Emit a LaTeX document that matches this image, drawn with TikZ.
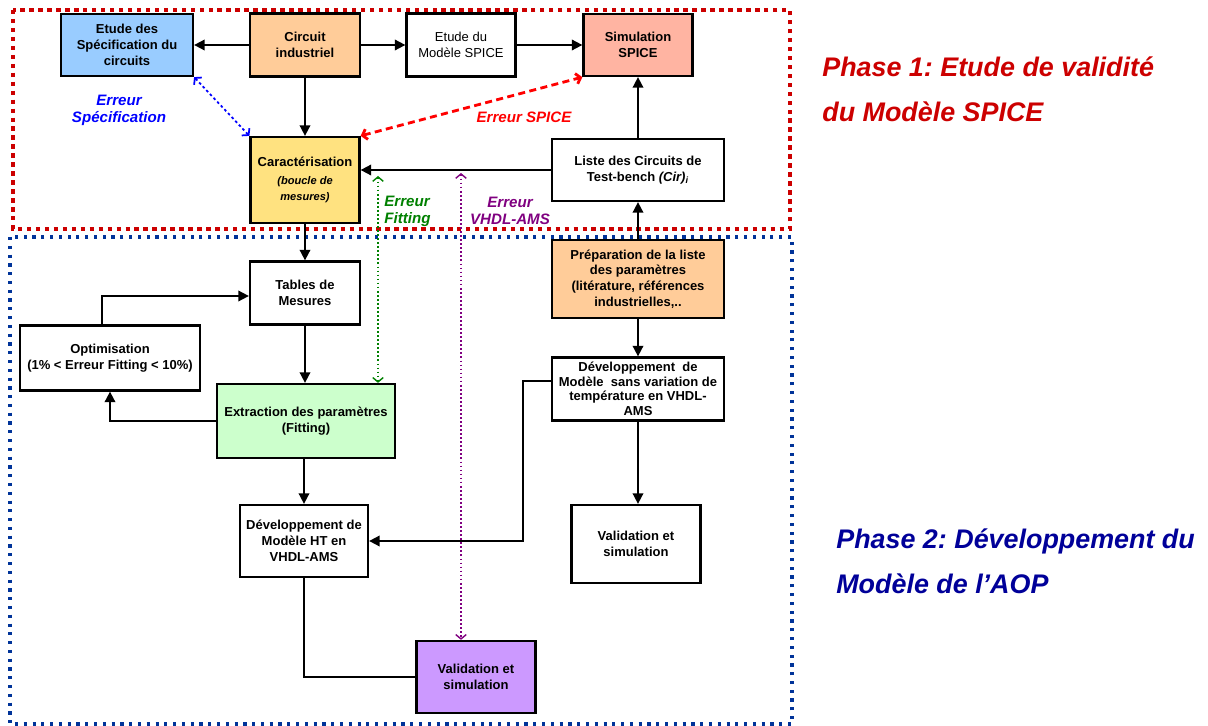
\documentclass[tikz,border=0pt]{standalone}
\usepackage{fontspec}
\setmainfont{Liberation Sans}
\usepackage{tikz}
\usetikzlibrary{arrows.meta, positioning}
\usepackage{xcolor}
\frenchspacing
\definecolor{bleuspec}{HTML}{99CCFF}
\definecolor{orangeclair}{HTML}{FFCC99}
\definecolor{saumon}{HTML}{FFB4A2}
\definecolor{jaune}{HTML}{FFE280}
\definecolor{vertclair}{HTML}{CCFFCC}
\definecolor{violetclair}{HTML}{CC99FF}
\definecolor{rougephase}{HTML}{CC0000}
\definecolor{bleuphase}{HTML}{003399}
\definecolor{bleutexte}{HTML}{000099}
\definecolor{vertfit}{HTML}{008000}
\definecolor{violetvhdl}{HTML}{800080}
\newcommand{\boxfont}{\fontsize{7.4}{9}\selectfont\bfseries}
\newcommand{\errfont}{\fontsize{8.6}{9.8}\selectfont\bfseries\itshape}
\newcommand{\phasefont}{\fontsize{15.3}{25.5}\selectfont\bfseries\itshape}
\def\cadreun{(13,10) rectangle (790,229)}
\def\cadredeux{(10,237) rectangle (792,724)}
\tikzset{
    boite/.style = {draw, line width=1.3pt, align=center, font=\boxfont, inner sep=1pt},
    fleche/.style = {-{Triangle[length=6pt,width=6pt]}, line width=1pt},
    trait/.style = {line width=1pt},
    erreur/.style = {{Straight Barb[length=2.5pt,width=6pt]}-{Straight Barb[length=2.5pt,width=6pt]}},
    libelle/.style = {align=center, font=\errfont, inner sep=0pt}
}

\begin{document}
\begin{tikzpicture}[x=0.02cm, y=-0.02cm]
    \useasboundingbox (0,0) rectangle (1208,726);
    % Cadres des deux phases
    \draw[rougephase, line width=2.3pt, dash pattern=on 2.5pt off 2.6pt] \cadreun;
    \draw[bleuphase, line width=1.8pt, dash pattern=on 1.8pt off 3.2pt] \cadredeux;
    % Phase 1
    \node[boite, fill=bleuspec, minimum width=2.64cm, minimum height=1.24cm] (spec) at (127,45) {Etude des\\Spécification du\\circuits};
    \node[boite, fill=orangeclair, minimum width=2.2cm, minimum height=1.26cm] (circ) at (305,45) {Circuit\\industriel};
    \node[boite, fill=white, minimum width=2.18cm, minimum height=1.26cm, font=\fontsize{7.4}{9}\selectfont] (modele) at (461,45) {Etude du\\Modèle SPICE};
    \node[boite, fill=saumon, minimum width=2.18cm, minimum height=1.24cm] (simu) at (638,45) {Simulation\\SPICE};
    \node[boite, fill=jaune, minimum width=2.18cm, minimum height=1.72cm] (carac) at (305,180) {Caractérisation\\[1pt]{\fontsize{6.3}{7}\selectfont\itshape (boucle de}\\{\fontsize{6.3}{7}\selectfont\itshape mesures)}};
    \node[boite, fill=white, minimum width=3.44cm, minimum height=1.24cm] (liste) at (638,170) {Liste des Circuits de\\Test-bench \textit{(Cir)}\textsubscript{\textit{i}}};
    % Phase 2
    \node[boite, fill=orangeclair, minimum width=3.44cm, minimum height=1.56cm] (prep) at (638,279) {Préparation de la liste\\des paramètres\\(litérature, références\\industrielles,..};
    \node[boite, fill=white, minimum width=3.44cm, minimum height=1.26cm, font=\fontsize{7.4}{8.3}\selectfont\bfseries] (devsans) at (638,389) {Développement\ \ de\\Modèle\ \ sans variation de\\température en VHDL-\\AMS};
    \node[boite, fill=white, minimum width=2.58cm, minimum height=1.56cm] (valid) at (636,544) {Validation et\\simulation};
    \node[boite, fill=white, minimum width=2.2cm, minimum height=1.26cm] (tables) at (305,293) {Tables de\\Mesures};
    \node[boite, fill=white, minimum width=3.6cm, minimum height=1.3cm] (optim) at (110,358) {Optimisation\\(1\% < Erreur Fitting < 10\%)};
    \node[boite, fill=vertclair, minimum width=3.56cm, minimum height=1.48cm] (extract) at (306,421) {Extraction des paramètres\\(Fitting)};
    \node[boite, fill=white, minimum width=2.56cm, minimum height=1.44cm] (devht) at (304,541) {Développement de\\Modèle HT en\\VHDL-AMS};
    \node[boite, fill=violetclair, minimum width=2.38cm, minimum height=1.44cm] (validp) at (476,677) {Validation et\\simulation};
    % Liaisons
    \draw[fleche] (circ.west) -- (spec.east);
    \draw[fleche] (circ.east) -- (modele.west);
    \draw[fleche] (modele.east) -- (simu.west);
    \draw[fleche] (circ.south) -- (carac.north);
    \draw[fleche] (liste.west) -- (liste.west -| carac.east);
    \draw[fleche] (liste.north) -- (simu.south);
    \draw[fleche] (prep.north) -- (liste.south);
    \draw[fleche] (prep.south) -- (devsans.north);
    \draw[fleche] (carac.south) -- (tables.north);
    \draw[fleche] (tables.south) -- (tables.south |- extract.north);
    \draw[fleche] (extract.west) -| (optim.south);
    \draw[fleche] ([xshift=-0.16cm]optim.north) |- ([yshift=-0.06cm]tables.west);
    \draw[fleche] (extract.south -| devht.north) -- (devht.north);
    \draw[fleche] ([yshift=0.16cm]devsans.west) -- ++(-28,0) |- (devht.east);
    \draw[fleche] (devsans.south) -- (devsans.south |- valid.north);
    \draw[trait] (devht.south) |- (validp.west);
    % Erreurs
    \draw[erreur, blue, line width=1pt, dash pattern=on 1.5pt off 1.5pt] (spec.south east) -- (carac.north west);
    \draw[erreur, red, line width=1.6pt, dash pattern=on 4pt off 2.5pt] (carac.north east) -- (simu.south west);
    \coordinate (fitHaut) at (378,176);
    \draw[erreur, vertfit, line width=0.8pt, dash pattern=on 1pt off 1.3pt] (fitHaut) -- (fitHaut |- extract.north);
    \coordinate (vhdlHaut) at (461,173);
    \draw[erreur, violetvhdl, line width=0.8pt, dash pattern=on 1pt off 1.3pt] (vhdlHaut) -- (vhdlHaut |- validp.north);
    % Libellés des erreurs
    \node[libelle, text=blue] (lspec) at (119,110) {Erreur\\Spécification};
    \node[libelle, text=red] (lspice) at (524,117) {Erreur SPICE};
    \node[libelle, text=vertfit, align=left, anchor=west] (lfit) at (384,211) {Erreur\\Fitting};
    \node[libelle, text=violetvhdl] (lvhdl) at (510,211) {Erreur\\VHDL-AMS};
    % Titres des phases
    \node[align=left, anchor=west, font=\phasefont, text=rougephase, inner sep=0pt] (phase1) at (822,89) {Phase 1: Etude de validité\\du Modèle SPICE};
    \node[align=left, anchor=west, font=\phasefont, text=bleutexte, inner sep=0pt] (phase2) at (836,561) {Phase 2: Développement du\\Modèle de l’AOP};
\end{tikzpicture}
\end{document}
